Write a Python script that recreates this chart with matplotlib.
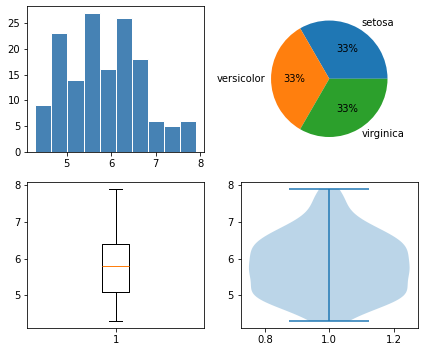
import matplotlib
matplotlib.use("Agg")
import matplotlib.pyplot as plt
import numpy as np

# iris sepal length, stored as distinct values and their counts
sepal_values = [4.3, 4.4, 4.5, 4.6, 4.7, 4.8, 4.9, 5.0, 5.1, 5.2, 5.3, 5.4,
                5.5, 5.6, 5.7, 5.8, 5.9, 6.0, 6.1, 6.2, 6.3, 6.4, 6.5, 6.6,
                6.7, 6.8, 6.9, 7.0, 7.1, 7.2, 7.3, 7.4, 7.6, 7.7, 7.9]
sepal_counts = [1, 3, 1, 4, 2, 5, 6, 10, 9, 4, 1, 6,
                7, 6, 8, 7, 3, 6, 6, 4, 9, 7, 5, 2,
                8, 3, 4, 1, 1, 3, 1, 1, 1, 4, 1]

species = ["setosa", "versicolor", "virginica"]
species_counts = [50, 50, 50]

sepal_length = np.repeat(sepal_values, sepal_counts)

fig, axes = plt.subplots(2, 2, figsize=(424 / 72, 352 / 72), dpi=72)

ax = axes[0, 0]
ax.hist(sepal_length, bins=10, color="steelblue", edgecolor="white")

ax = axes[0, 1]
ax.pie(species_counts, labels=species, autopct="%1.0f%%")

ax = axes[1, 0]
ax.boxplot(sepal_length)

ax = axes[1, 1]
ax.violinplot(sepal_length)

fig.subplots_adjust(left=0.0644, right=0.985, top=0.983, bottom=0.069,
                    wspace=0.2085, hspace=0.21)
fig.savefig("out.png")
